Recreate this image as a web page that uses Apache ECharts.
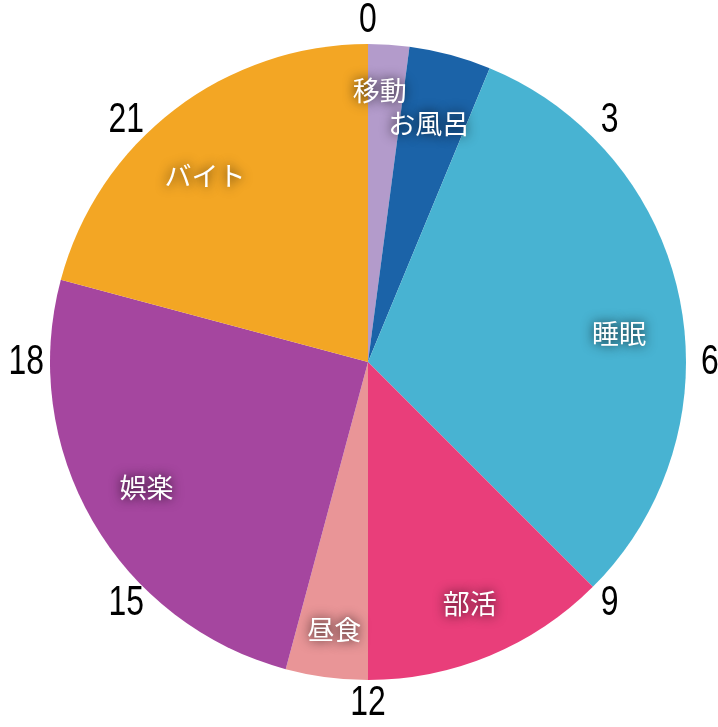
<!DOCTYPE html>
<html><head><meta charset="utf-8">
<script src="https://cdn.jsdelivr.net/npm/echarts@6/dist/echarts.min.js"></script>
<style>html,body{margin:0;padding:0;background:#fff}#c{width:718px;height:727px}</style>
</head><body><div id="c"></div>
<script>
const categories = ['移動','お風呂','睡眠','部活','昼食','娯楽','バイト'];
const hours = [0.5, 1, 7.5, 3, 1, 6, 5];
const colors = ['#b39bcb','#1b63a8','#48b3d2','#e93e7a','#e99597','#a5469f','#f3a624'];
const clockLabels = [0, 3, 6, 9, 12, 15, 18, 21];

// small label nudges (layout only)
const labelNudge = [[-5, -14], [-6, 11], [-2, 22], [3, 3], [0, 12], [2, -3], [-6, 18]];

const chart = echarts.init(document.getElementById('c'));
const center = [368, 362];
const R = 318;
const labelRadius = 1.075;
const data = categories.map((n, i) => ({ name: n, value: hours[i], itemStyle: { color: colors[i] } }));
chart.setOption({
  animation: false,
  polar: { center: center, radius: R },
  angleAxis: {
    type: 'value', min: 0, max: 24, startAngle: 90, clockwise: true, show: false
  },
  radiusAxis: { show: false, min: 0, max: 1 },
  series: [
    { type: 'pie', center: center, radius: [0, R], startAngle: 90, clockwise: true,
      label: { show: false }, labelLine: { show: false }, silent: true, z: 1,
      data: data },
    { type: 'pie', center: center, radius: [192, R], startAngle: 90, clockwise: true,
      itemStyle: { color: 'rgba(0,0,0,0)' }, z: 3, silent: true,
      labelLayout: function (p) { const n = labelNudge[p.dataIndex]; return { dx: n[0], dy: n[1], hideOverlap: false }; },
      label: { show: true, position: 'inside', color: '#fff', fontSize: 27,
        fontFamily: 'Noto Sans CJK JP', textShadowColor: 'rgba(0,0,0,0.85)', textShadowBlur: 12,
        formatter: '{b}' },
      labelLine: { show: false },
      data: categories.map((n, i) => ({ name: n, value: hours[i] })) },
    { type: 'custom', coordinateSystem: 'polar', silent: true, z: 5,
      data: clockLabels.map(v => [labelRadius, v]),
      renderItem: function (params, api) {
        const p = api.coord([api.value(0), api.value(1)]);
        return { type: 'text', x: p[0], y: p[1], scaleX: 0.76,
          style: { text: String(api.value(1)), fill: '#000', align: 'center', verticalAlign: 'middle',
            font: '42px "Liberation Sans", Arial, sans-serif' } };
      } }
  ]
});
</script></body></html>
